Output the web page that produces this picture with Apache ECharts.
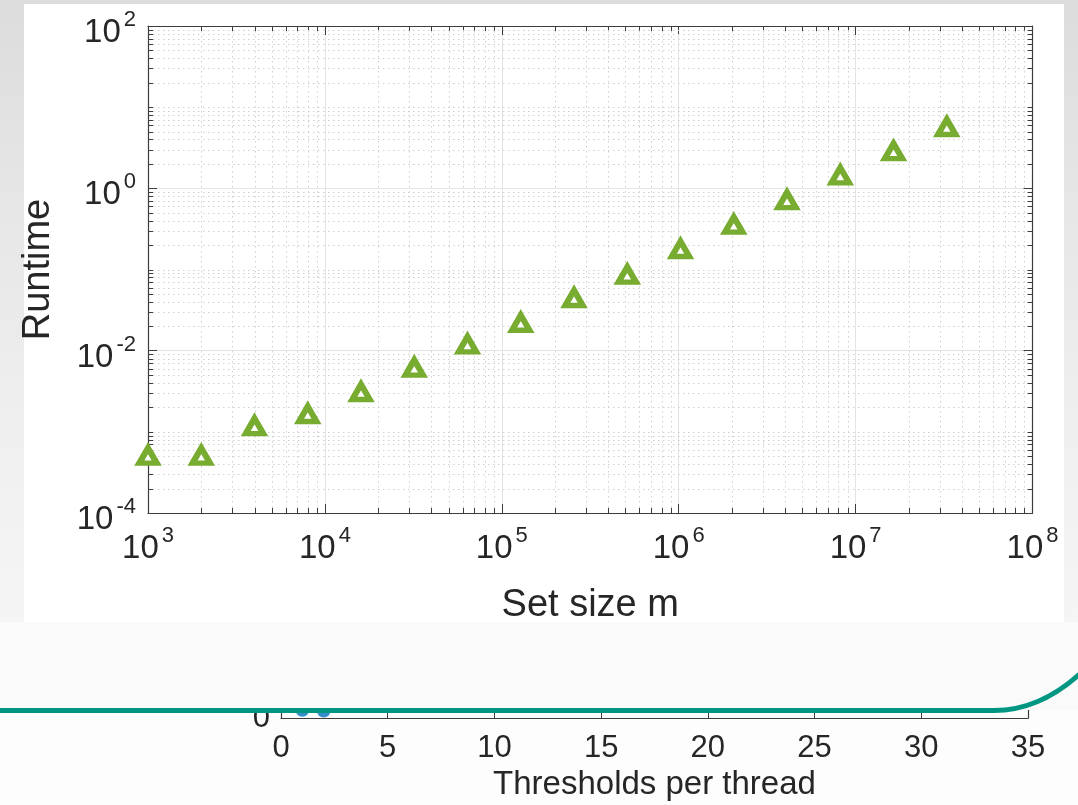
<!DOCTYPE html>
<html><head><meta charset="utf-8">
<script src="https://cdn.jsdelivr.net/npm/echarts@6/dist/echarts.min.js"></script>
<style>
html,body{margin:0;padding:0;width:1078px;height:805px;overflow:hidden;
background:linear-gradient(180deg,#dcdcdc 0px,#e6e6e6 200px,#efefef 420px,#f5f5f5 620px,#fafafa 805px);}
#chart{width:1078px;height:805px;}
</style></head><body><div id="chart"></div>
<script>
// ---- data ----
const setSizes = [1e3, 2e3, 4e3, 8e3, 16e3, 32e3, 64e3, 128e3, 256e3, 512e3, 1024e3, 2048e3, 4096e3, 8192e3, 16384e3, 32768e3];
const runtimes = [5.1e-4, 5.1e-4, 1.18e-3, 1.66e-3, 3.1e-3, 6.2e-3, 0.012, 0.0221, 0.0447, 0.0867, 0.179, 0.358, 0.718, 1.45, 2.88, 5.72];
const xDecades = [3, 4, 5, 6, 7, 8];          // tick exponents of the x axis
const yDecades = [-4, -3, -2, -1, 0, 1, 2];   // decades of the y axis
const yLabelDecades = [-4, -2, 0, 2];         // labelled y exponents
const xAxisTitle = 'Set size m';
const yAxisTitle = 'Runtime';

// lower (partly hidden) chart
const thresholds = [1, 2];
const thresholdValues = [0.46, 0.42];
const thresholdAxisTitle = 'Thresholds per thread';

// ---- styling ----
const FONT = "'Liberation Sans', Arial, Helvetica, sans-serif";
const AXIS = '#3c3c3c';
const TXT = '#262626';
const GREEN = '#77AC30';

const chart = echarts.init(document.getElementById('chart'), null, {renderer: 'canvas'});

function powLabel(v) {
  const e = Math.round(Math.log10(v));
  return '{b|10}{s|' + e + '}';
}
const rich = {
  b: {fontSize: 33, fontFamily: FONT, color: TXT, lineHeight: 36, padding: [14, 0, 0, 0]},
  s: {fontSize: 22, fontFamily: FONT, color: TXT, lineHeight: 20, padding: [9, 0, 21, 3]}
};

function renderDecor(params, api) {
  const cs = params.coordSys;
  const L = cs.x, R = cs.x + cs.width, T = cs.y, B = cs.y + cs.height;
  const kids = [];
  const gs = {stroke: '#d0d0d0', lineWidth: 1, lineDash: [1.5, 3.5]};
  const ts = {stroke: AXIS, lineWidth: 1};
  const mlen = 5;
  const ln = (x1, y1, x2, y2, st) => kids.push({type: 'line', shape: {x1: x1, y1: y1, x2: x2, y2: y2}, style: st});
  for (let i = 0; i < xDecades.length - 1; i++) {
    for (let k = 2; k <= 9; k++) {
      const px = Math.round(api.coord([k * Math.pow(10, xDecades[i]), 1])[0]) + 0.5;
      ln(px, T, px, B, gs);
      ln(px, B, px, B - mlen, ts);
      ln(px, T, px, T + mlen, ts);
    }
  }
  for (let i = 0; i < yDecades.length - 1; i++) {
    for (let k = 1; k <= 9; k++) {
      const e = yDecades[i];
      if (k === 1 && yLabelDecades.indexOf(e) >= 0) continue;
      const py = Math.round(api.coord([setSizes[0], k * Math.pow(10, e)])[1]) + 0.5;
      ln(L, py, R, py, gs);
      ln(L, py, L + mlen, py, ts);
      ln(R, py, R - mlen, py, ts);
    }
  }
  return {type: 'group', children: kids};
}

const logX = {
  type: 'log', logBase: 10, gridIndex: 0,
  min: Math.pow(10, xDecades[0]), max: Math.pow(10, xDecades[xDecades.length - 1]), interval: 1,
  axisLine: {show: true, lineStyle: {color: AXIS, width: 1.2}},
  axisTick: {show: true, inside: true, length: 9, lineStyle: {color: AXIS, width: 1}}
};
const logY = {
  type: 'log', logBase: 10, gridIndex: 0,
  min: Math.pow(10, yDecades[0]), max: Math.pow(10, yDecades[yDecades.length - 1]), interval: 2,
  axisLine: {show: true, lineStyle: {color: AXIS, width: 1.2}},
  axisTick: {show: true, inside: true, length: 9, lineStyle: {color: AXIS, width: 1}}
};

const option = {
  animation: false,
  backgroundColor: 'transparent',
  textStyle: {fontFamily: FONT},
  graphic: {elements: [
    {type: 'rect', z: -10, silent: true, shape: {x: 24, y: 4, width: 1040, height: 618}, style: {fill: '#ffffff'}},
    {type: 'rect', z: -10, silent: true, shape: {x: 0, y: 709, width: 1078, height: 96}, style: {fill: '#fdfdfd'}},
    {type: 'rect', z: 50, silent: true, shape: {x: 0, y: 622, width: 1078, height: 88}, style: {fill: '#fafafa'}},
    {type: 'line', z: 60, silent: true, shape: {x1: -10, y1: 710.5, x2: 995, y2: 710.5},
      style: {stroke: '#009682', lineWidth: 5}},
    {type: 'bezierCurve', z: 60, silent: true,
      shape: {x1: 994, y1: 710.5, cpx1: 1045, cpy1: 710.5, x2: 1090, y2: 664},
      style: {fill: null, stroke: '#009682', lineWidth: 5}}
  ]},
  grid: [
    {left: 148, right: 45.5, top: 25, height: 488},
    {left: 281, right: 50, top: 700, height: 18}
  ],
  xAxis: [
    Object.assign({}, logX, {
      position: 'bottom',
      name: xAxisTitle, nameLocation: 'middle', nameGap: 74,
      nameTextStyle: {fontSize: 38, fontFamily: FONT, color: TXT},
      splitLine: {show: true, lineStyle: {color: '#e4e4e4', width: 1}},
      axisLabel: {show: true, margin: 11, formatter: powLabel, rich: rich}
    }),
    Object.assign({}, logX, {position: 'top', axisLabel: {show: false}, splitLine: {show: false}}),
    {
      type: 'value', gridIndex: 1, min: 0, max: 35, interval: 5, position: 'bottom',
      name: thresholdAxisTitle, nameLocation: 'middle', nameGap: 50,
      nameTextStyle: {fontSize: 33, fontFamily: FONT, color: TXT},
      axisLine: {show: true, onZero: false, lineStyle: {color: AXIS, width: 1.2}},
      axisTick: {show: true, inside: true, length: 9, lineStyle: {color: AXIS}},
      axisLabel: {show: true, margin: 15, fontSize: 31, fontFamily: FONT, color: TXT},
      splitLine: {show: false}
    }
  ],
  yAxis: [
    Object.assign({}, logY, {
      position: 'left',
      name: yAxisTitle, nameLocation: 'middle', nameGap: 90, nameRotate: 90,
      nameTextStyle: {fontSize: 38, fontFamily: FONT, color: TXT},
      splitLine: {show: true, lineStyle: {color: '#e4e4e4', width: 1}},
      axisLabel: {show: true, margin: 12, formatter: powLabel, rich: rich}
    }),
    Object.assign({}, logY, {position: 'right', axisLabel: {show: false}, splitLine: {show: false}}),
    {
      type: 'value', gridIndex: 1, min: 0, max: 1, interval: 1, position: 'left',
      axisLine: {show: true, onZero: false, lineStyle: {color: AXIS, width: 1.2}},
      axisTick: {show: false},
      axisLabel: {show: true, margin: 11, fontSize: 31, fontFamily: FONT, color: TXT,
        formatter: function (v) { return v === 0 ? '0' : ''; }},
      splitLine: {show: false}
    },
    {
      type: 'value', gridIndex: 1, min: 0, max: 1, interval: 1, position: 'right',
      axisLine: {show: true, onZero: false, lineStyle: {color: AXIS, width: 1.2}},
      axisTick: {show: false}, axisLabel: {show: false}, splitLine: {show: false}
    }
  ],
  series: [
    {
      type: 'custom', xAxisIndex: 0, yAxisIndex: 0, z: 1, silent: true, clip: false,
      renderItem: renderDecor, data: [[setSizes[0], runtimes[0]]]
    },
    {
      type: 'scatter', xAxisIndex: 0, yAxisIndex: 0, z: 5,
      symbol: 'triangle', symbolSize: [17.5, 15.2],
      itemStyle: {color: '#ffffff', borderColor: GREEN, borderWidth: 5.8, opacity: 1},
      data: setSizes.map(function (x, i) { return [x, runtimes[i]]; })
    },
    {
      type: 'scatter', xAxisIndex: 2, yAxisIndex: 2, z: 5,
      symbol: 'circle', symbolSize: 14,
      itemStyle: {color: '#0072BD'},
      data: thresholds.map(function (x, i) { return [x, thresholdValues[i]]; })
    }
  ]
};
chart.setOption(option);
</script>
</body></html>
